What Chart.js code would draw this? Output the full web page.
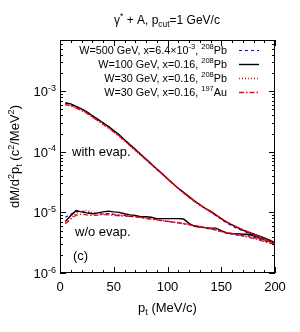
<!DOCTYPE html>
<html>
<head>
<meta charset="utf-8">
<script src="https://cdn.jsdelivr.net/npm/chart.js@4.4.1/dist/chart.umd.min.js"></script>
<style>
  html, body { margin: 0; padding: 0; background: #fff; }
  #wrap { width: 300px; height: 332px; }
</style>
</head>
<body>
<div id="wrap"><canvas id="chart" width="300" height="332"></canvas></div>
<script>
// p_t (MeV/c)
const pt = [5, 10, 15, 20, 25, 30, 35, 40, 45, 50, 55, 60, 65, 70, 75, 80, 85, 90, 95, 100,
            105, 110, 115, 120, 125, 130, 135, 140, 145, 150, 155, 160, 165, 170, 175, 180, 185, 190, 195, 200];

// with evaporation
const w500With = [6.3e-4, 6.0e-4, 5.5e-4, 5.0e-4, 4.5e-4, 3.9e-4, 3.4e-4, 2.95e-4, 2.6e-4, 2.2e-4,
                  1.88e-4, 1.56e-4, 1.30e-4, 1.08e-4, 9.0e-5, 7.5e-5, 6.2e-5, 5.2e-5, 4.3e-5, 3.6e-5,
                  3.0e-5, 2.5e-5, 2.1e-5, 1.8e-5, 1.52e-5, 1.33e-5, 1.16e-5, 1.02e-5, 8.9e-6, 7.7e-6,
                  6.7e-6, 6.0e-6, 5.4e-6, 5.0e-6, 4.6e-6, 4.2e-6, 3.9e-6, 3.6e-6, 3.3e-6, 3.0e-6];
const w100With = [6.46e-4, 6.17e-4, 5.62e-4, 5.13e-4, 4.57e-4, 3.98e-4, 3.47e-4, 3.02e-4, 2.63e-4, 2.24e-4,
                  1.91e-4, 1.58e-4, 1.32e-4, 1.10e-4, 9.1e-5, 7.6e-5, 6.3e-5, 5.2e-5, 4.4e-5, 3.6e-5,
                  3.0e-5, 2.5e-5, 2.14e-5, 1.82e-5, 1.55e-5, 1.35e-5, 1.17e-5, 1.05e-5, 9.1e-6, 7.9e-6,
                  6.9e-6, 6.2e-6, 5.6e-6, 5.1e-6, 4.7e-6, 4.4e-6, 4.1e-6, 3.8e-6, 3.5e-6, 3.2e-6];
const w30PbWith = [5.9e-4, 5.7e-4, 5.2e-4, 4.8e-4, 4.3e-4, 3.7e-4, 3.25e-4, 2.8e-4, 2.45e-4, 2.1e-4,
                   1.8e-4, 1.5e-4, 1.25e-4, 1.05e-4, 8.8e-5, 7.3e-5, 6.1e-5, 5.1e-5, 4.3e-5, 3.5e-5,
                   2.95e-5, 2.45e-5, 2.1e-5, 1.78e-5, 1.52e-5, 1.32e-5, 1.15e-5, 1.02e-5, 8.9e-6, 7.8e-6,
                   6.9e-6, 6.2e-6, 5.6e-6, 5.2e-6, 4.8e-6, 4.4e-6, 4.0e-6, 3.7e-6, 3.4e-6, 3.1e-6];
const w30AuWith = [6.0e-4, 5.8e-4, 5.3e-4, 4.85e-4, 4.35e-4, 3.75e-4, 3.3e-4, 2.85e-4, 2.5e-4, 2.12e-4,
                   1.82e-4, 1.52e-4, 1.27e-4, 1.06e-4, 8.9e-5, 7.4e-5, 6.2e-5, 5.15e-5, 4.3e-5, 3.55e-5,
                   2.97e-5, 2.47e-5, 2.1e-5, 1.8e-5, 1.53e-5, 1.33e-5, 1.16e-5, 1.03e-5, 9.0e-6, 7.9e-6,
                   7.0e-6, 6.3e-6, 5.7e-6, 5.2e-6, 4.8e-6, 4.3e-6, 3.9e-6, 3.6e-6, 3.3e-6, 3.0e-6];

// without evaporation
const w500Without = [8.3e-6, 9.3e-6, 1.03e-5, 1.04e-5, 9.9e-6, 9.6e-6, 9.3e-6, 9.5e-6, 9.6e-6, 9.3e-6,
                     9.0e-6, 8.9e-6, 8.6e-6, 8.5e-6, 8.3e-6, 8.0e-6, 7.9e-6, 7.6e-6, 7.3e-6, 7.1e-6,
                     6.9e-6, 6.8e-6, 6.5e-6, 6.3e-6, 6.1e-6, 5.8e-6, 5.5e-6, 5.3e-6, 5.1e-6, 4.9e-6,
                     4.5e-6, 4.4e-6, 4.2e-6, 4.1e-6, 4.1e-6, 3.9e-6, 3.6e-6, 3.4e-6, 3.2e-6, 3.0e-6];
const w100Without = [7.1e-6, 8.9e-6, 1.07e-5, 1.02e-5, 9.8e-6, 9.5e-6, 9.8e-6, 1.02e-5, 1.05e-5, 1.02e-5,
                     1.0e-5, 9.5e-6, 9.1e-6, 8.9e-6, 8.5e-6, 8.5e-6, 8.3e-6, 7.9e-6, 7.9e-6, 7.9e-6,
                     7.9e-6, 7.9e-6, 7.8e-6, 6.6e-6, 5.9e-6, 5.75e-6, 5.6e-6, 5.5e-6, 5.5e-6, 5.0e-6,
                     4.6e-6, 4.45e-6, 4.45e-6, 4.35e-6, 4.35e-6, 4.1e-6, 3.8e-6, 3.55e-6, 3.3e-6, 3.2e-6];
const w30PbWithout = [6.8e-6, 8.3e-6, 9.6e-6, 1.05e-5, 1.08e-5, 1.0e-5, 9.6e-6, 9.4e-6, 9.5e-6, 9.3e-6,
                      9.1e-6, 9.0e-6, 8.8e-6, 8.6e-6, 8.4e-6, 8.1e-6, 7.8e-6, 7.6e-6, 7.4e-6, 7.2e-6,
                      7.0e-6, 6.8e-6, 6.6e-6, 6.4e-6, 6.1e-6, 5.9e-6, 5.6e-6, 5.4e-6, 5.2e-6, 4.9e-6,
                      4.6e-6, 4.5e-6, 4.4e-6, 4.2e-6, 4.0e-6, 3.8e-6, 3.7e-6, 3.5e-6, 3.3e-6, 3.1e-6];
const w30AuWithout = [6.5e-6, 7.8e-6, 9.0e-6, 9.4e-6, 9.1e-6, 8.9e-6, 9.0e-6, 9.2e-6, 9.1e-6, 9.0e-6,
                      8.8e-6, 8.7e-6, 8.6e-6, 8.5e-6, 8.2e-6, 7.9e-6, 7.7e-6, 7.5e-6, 7.3e-6, 7.1e-6,
                      6.9e-6, 6.7e-6, 6.5e-6, 6.3e-6, 6.0e-6, 5.8e-6, 5.6e-6, 5.4e-6, 5.1e-6, 4.8e-6,
                      4.6e-6, 4.5e-6, 4.3e-6, 4.1e-6, 3.9e-6, 3.7e-6, 3.5e-6, 3.3e-6, 3.1e-6, 3.0e-6];

const xTicks = [0, 50, 100, 150, 200];
const yTickExp = [-6, -5, -4, -3];

const FONT = "'Liberation Sans', Arial, sans-serif";

// legend rows: text parts + line style
const series = [
  { parts: [["W=500 GeV, x=6.4×10"], ["-3", "sup"], [", "], ["208", "sup"], ["Pb"]],
    color: "#0000ff", dash: [3, 3], width: 1.2, order: 4, up: w500With, low: w500Without },
  { parts: [["W=100 GeV, x=0.16, "], ["208", "sup"], ["Pb"]],
    color: "#000000", dash: [], width: 1.4, order: 3, up: w100With, low: w100Without },
  { parts: [["W=30 GeV, x=0.16, "], ["208", "sup"], ["Pb"]],
    color: "#ff0000", dash: [1, 2], width: 1.3, order: 2, up: w30PbWith, low: w30PbWithout },
  { parts: [["W=30 GeV, x=0.16, "], ["197", "sup"], ["Au"]],
    color: "#ff0000", dash: [5, 2, 1.5, 2], width: 1.3, order: 1, up: w30AuWith, low: w30AuWithout }
];

const datasets = [];
series.forEach(s => {
  [s.up, s.low].forEach(arr => {
    datasets.push({
      data: pt.map((p, i) => ({ x: p, y: arr[i] })),
      borderColor: s.color,
      borderDash: s.dash,
      borderWidth: s.width,
      pointRadius: 0,
      tension: 0,
      fill: false,
      order: s.order
    });
  });
});

// draw text with super/subscripts; y is baseline
function richWidth(ctx, parts, size) {
  let w = 0;
  parts.forEach(p => {
    const sz = p[1] ? size * 0.7 : size;
    ctx.font = sz + "px " + FONT;
    w += ctx.measureText(p[0]).width;
  });
  return w;
}
function drawRich(ctx, parts, x, y, align, size) {
  const w = richWidth(ctx, parts, size);
  let cx = align === "right" ? x - w : align === "center" ? x - w / 2 : x;
  ctx.textAlign = "left";
  ctx.textBaseline = "alphabetic";
  parts.forEach(p => {
    const sz = p[1] ? size * 0.7 : size;
    const dy = p[1] === "sup" ? -size * 0.42 : p[1] === "sub" ? size * 0.25 : 0;
    ctx.font = sz + "px " + FONT;
    ctx.fillText(p[0], cx, y + dy);
    cx += ctx.measureText(p[0]).width;
  });
}

const decor = {
  id: "decor",
  afterDraw(chart) {
    const ctx = chart.ctx;
    const a = chart.chartArea;
    const xs = chart.scales.x, ys = chart.scales.y;
    ctx.save();
    ctx.fillStyle = "#000";
    ctx.strokeStyle = "#000";
    ctx.lineWidth = 1;

    // frame
    ctx.strokeRect(a.left + 0.5, a.top + 0.5, a.right - a.left - 1, a.bottom - a.top - 1);

    // ticks, pointing inward
    ctx.beginPath();
    for (let v = 0; v <= 200; v += 10) {
      const px = Math.round(xs.getPixelForValue(v)) + 0.5;
      const len = v % 50 === 0 ? 6 : 3;
      ctx.moveTo(px, a.bottom); ctx.lineTo(px, a.bottom - len);
      ctx.moveTo(px, a.top); ctx.lineTo(px, a.top + len);
    }
    for (let e = -6; e <= -3; e++) {
      for (let m = 1; m <= 9; m++) {
        const v = m * Math.pow(10, e);
        if (v > ys.max) continue;
        const py = Math.round(ys.getPixelForValue(v)) + 0.5;
        const len = m === 1 ? 6 : 3;
        ctx.moveTo(a.left, py); ctx.lineTo(a.left + len, py);
        ctx.moveTo(a.right, py); ctx.lineTo(a.right - len, py);
      }
    }
    ctx.stroke();

    // tick labels
    ctx.font = "13px " + FONT;
    ctx.textAlign = "center";
    ctx.textBaseline = "middle";
    xTicks.forEach(v => ctx.fillText(String(v), xs.getPixelForValue(v), 287));
    yTickExp.forEach(e => {
      drawRich(ctx, [["10"], [String(e), "sup"]], 56, ys.getPixelForValue(Math.pow(10, e)) + 5, "right", 13);
    });

    // axis titles
    drawRich(ctx, [["p"], ["t", "sub"], [" (MeV/c)"]], (a.left + a.right) / 2, 312, "center", 13);
    ctx.save();
    ctx.translate(19, (a.top + a.bottom) / 2);
    ctx.rotate(-Math.PI / 2);
    drawRich(ctx, [["dM/d"], ["2", "sup"], ["p"], ["t", "sub"], [" (c"], ["2", "sup"], ["/MeV"], ["2", "sup"], [")"]], 0, 0, "center", 13);
    ctx.restore();

    // title
    drawRich(ctx, [["γ"], ["*", "sup"], [" + A, p"], ["cut", "sub"], ["=1 GeV/c"]], 167, 24, "center", 12);

    // legend
    series.forEach((s, i) => {
      const y = 50 + i * 14;
      ctx.fillStyle = "#000";
      drawRich(ctx, s.parts, 227, y + 4, "right", 10.8);
      ctx.beginPath();
      ctx.strokeStyle = s.color;
      ctx.lineWidth = s.width;
      ctx.setLineDash(s.dash);
      ctx.moveTo(239, y + 0.5);
      ctx.lineTo(259, y + 0.5);
      ctx.stroke();
      ctx.setLineDash([]);
    });

    // annotations
    ctx.fillStyle = "#000";
    ctx.font = "13px " + FONT;
    ctx.textAlign = "left";
    ctx.textBaseline = "middle";
    ctx.fillText("with evap.", 72, 152);
    ctx.fillText("w/o evap.", 75, 232);
    ctx.fillText("(c)", 73, 256);
    ctx.restore();
  }
};

new Chart(document.getElementById("chart"), {
  type: "line",
  data: { datasets: datasets },
  options: {
    responsive: false,
    animation: false,
    layout: { padding: { left: 60, right: 25, top: 40, bottom: 59 } },
    plugins: { legend: { display: false }, tooltip: { enabled: false } },
    scales: {
      x: { type: "linear", min: 0, max: 200, display: false },
      y: { type: "logarithmic", min: 1e-6, max: 7e-3, display: false }
    }
  },
  plugins: [decor]
});
</script>
</body>
</html>
